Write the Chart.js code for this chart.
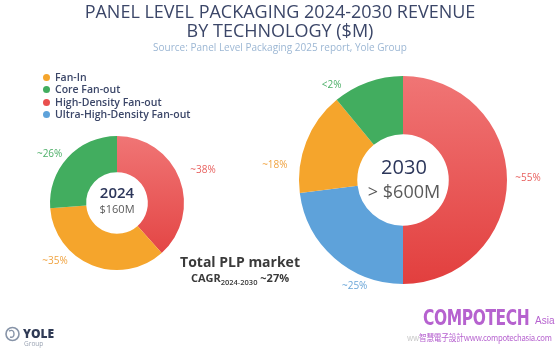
<!doctype html>
<html lang="en">
<head>
<meta charset="UTF-8" />
<title>Panel Level Packaging 2024-2030 revenue by technology</title>
<script src="https://cdn.jsdelivr.net/npm/chart.js"></script>
<style>
  body { margin: 0; background: #fff; font-family: "Open Sans", Arial, sans-serif; }
  .page { position: relative; width: 560px; height: 350px; overflow: hidden; background: #fff; }
  .page canvas { position: absolute; left: 0; top: 0; }
  .abs { position: absolute; white-space: nowrap; }
  .title { left: 0; width: 560px; text-align: center; color: #3b4668; font-size: 18px; font-weight: 500; line-height: 19px; top: 2px; }
  .source { left: 0; width: 560px; text-align: center; color: #9cb7d4; font-size: 10px; top: 40px; }
  .legend { left: 43px; top: 71px; font-size: 10.5px; font-weight: 600; color: #3b4668; line-height: 12.3px; }
  .legend i { display: inline-block; width: 7px; height: 7px; border-radius: 50%; margin-right: 5px; vertical-align: 0px; }
  .center { text-align: center; transform: translateX(-50%); }
  .yr { color: #2c365a; font-weight: 600; }
  .amt { color: #5a5a5a; }
  .total { left: 240px; top: 253px; transform: translateX(-50%); text-align: center; color: #3a3a3a; font-weight: 700; }
  .yole { left: 5px; top: 326px; }
  .compo { left: 423px; top: 306px; color: #b662cf; }
</style>
</head>
<body>
<div class="page" id="page">
  <canvas id="c2024" width="560" height="350"></canvas>
  <canvas id="c2030" width="560" height="350"></canvas>

  <div class="abs title">PANEL LEVEL PACKAGING 2024-2030 REVENUE<br>BY TECHNOLOGY ($M)</div>
  <div class="abs source">Source: Panel Level Packaging 2025 report, Yole Group</div>
  <div class="abs legend" id="legend"></div>

  <div class="abs center" style="left:117px; top:183px;">
    <div class="yr" style="font-size:15px; line-height:18px;">2024</div>
    <div class="amt" style="font-size:11px; line-height:15px;">$160M</div>
  </div>
  <div class="abs center" style="left:404px; top:154px;">
    <div class="yr" style="font-size:20px; line-height:25px; font-weight:500;">2030</div>
    <div class="amt" style="font-size:18px; line-height:25px;">&gt; $600M</div>
  </div>

  <div class="abs total">
    <div style="font-size:14px; line-height:18px;">Total PLP market</div>
    <div style="font-size:11px; line-height:14px;">CAGR<sub style="font-size:7.5px; font-weight:600;">2024-2030</sub> ~27%</div>
  </div>

  <div class="abs yole">
    <svg width="15" height="16" viewBox="0 0 15 16" style="position:absolute; left:0; top:0;">
      <circle cx="7.5" cy="8" r="6.5" fill="none" stroke="#8794a8" stroke-width="1.6"/>
      <path d="M4 5 Q9 3 9 8 Q9 12 5 11" fill="none" stroke="#8794a8" stroke-width="1.4"/>
    </svg>
    <div style="position:absolute; left:18px; top:2px; font-size:12px; font-weight:800; color:#2f3a55; line-height:12px;">YOLE</div>
    <div style="position:absolute; left:19px; top:14px; font-size:6.5px; color:#9aa3b3; line-height:7px;">Group</div>
  </div>

  <div class="abs compo">
    <span style="font-family:'DejaVu Sans Condensed','Liberation Sans Narrow',sans-serif; font-weight:700; font-size:21px; letter-spacing:-0.5px; transform:scaleX(0.82); transform-origin:left; display:inline-block;">COMPOTECH</span>
  </div>
  <div class="abs" style="left:535px; top:315px; color:#b662cf; font-size:10px; font-family:'Liberation Sans Narrow',sans-serif;">Asia</div>
  <div class="abs" style="left:407px; top:331px; color:#b662cf; font-size:9px; font-family:'Noto Sans CJK TC',sans-serif; letter-spacing:-0.3px; transform:scaleX(0.86); transform-origin:left;">
    <span style="color:#c7c7c7;">ww</span>智慧電子設計www.compotechasia.com
  </div>
</div>

<script>
// technologies and colours
const technologies = ['Fan-In', 'Core Fan-out', 'High-Density Fan-out', 'Ultra-High-Density Fan-out'];
const techColors = ['#f5a52c', '#42ad5f', '#e94f4e', '#5ea2da'];
const labelColors = ['#f0a340', '#4daf68', '#e8615f', '#6aa6d8'];

// 2024 ring, clockwise from 12 o'clock
const slices2024 = ['High-Density Fan-out', 'Fan-In', 'Core Fan-out'];
const share2024 = [38, 35, 26];
const text2024 = ['~38%', '~35%', '~26%'];

// 2030 ring, clockwise from 12 o'clock (slice sizes as drawn in the graphic)
const slices2030 = ['High-Density Fan-out', 'Ultra-High-Density Fan-out', 'Fan-In', 'Core Fan-out'];
const share2030 = [50, 23, 16, 11];
const text2030 = ['~55%', '~25%', '~18%', '<2%'];

// legend
const legendEl = document.getElementById('legend');
technologies.forEach((t, i) => {
  const row = document.createElement('div');
  row.innerHTML = '<i style="background:' + techColors[i] + '"></i>' + t;
  legendEl.appendChild(row);
});

function colorOf(name) {
  return techColors[technologies.indexOf(name)];
}

// red slice gets the soft top-to-bottom shading of the original
function fillFor(names) {
  return (c) => {
    const name = names[c.dataIndex];
    const base = colorOf(name);
    const area = c.chart.chartArea;
    if (!area || name !== 'High-Density Fan-out') return base;
    const g = c.chart.ctx.createLinearGradient(0, area.top, 0, area.bottom);
    g.addColorStop(0, '#f07575');
    g.addColorStop(1, '#e23f3e');
    return g;
  };
}

const sliceLabels = {
  id: 'sliceLabels',
  afterDatasetsDraw(chart, args, opts) {
    const ctx = chart.ctx;
    chart.getDatasetMeta(0).data.forEach((arc, i) => {
      const p = arc.getProps(['x', 'y', 'startAngle', 'endAngle', 'outerRadius'], true);
      const a = (p.startAngle + p.endAngle) / 2 + opts.nudge[i] * Math.PI / 180;
      const r = p.outerRadius + opts.gap[i];
      ctx.save();
      ctx.font = '10px "Open Sans", Arial, sans-serif';
      ctx.fillStyle = labelColors[technologies.indexOf(opts.names[i])];
      ctx.textAlign = 'center';
      ctx.textBaseline = 'middle';
      ctx.fillText(opts.text[i], p.x + Math.cos(a) * r, p.y + Math.sin(a) * r);
      ctx.restore();
    });
  }
};

function ring(id, names, values, texts, cutout, padding, nudge, gap) {
  return new Chart(document.getElementById(id), {
    type: 'doughnut',
    data: {
      labels: names,
      datasets: [{
        data: values,
        backgroundColor: fillFor(names),
        borderWidth: 0
      }]
    },
    options: {
      responsive: false,
      animation: false,
      cutout: cutout,
      layout: { padding: padding },
      plugins: {
        legend: { display: false },
        tooltip: { enabled: false },
        sliceLabels: { names: names, text: texts, nudge: nudge, gap: gap }
      }
    },
    plugins: [sliceLabels]
  });
}

ring('c2024', slices2024, share2024, text2024, '46%',
  { left: 50, right: 376, top: 136, bottom: 80 },
  [0, 25, -7], [25, 18, 16]);

ring('c2030', slices2030, share2030, text2030, '44%',
  { left: 299, right: 53, top: 76, bottom: 66 },
  [-1, -17, -15, -17], [21, 13, 25, 15]);
</script>
</body>
</html>
